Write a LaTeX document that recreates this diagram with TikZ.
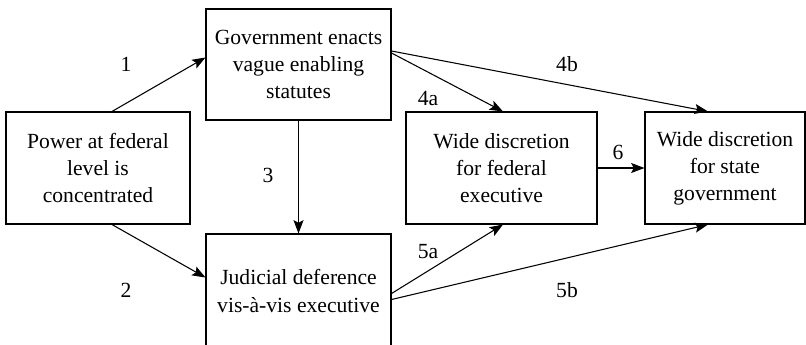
\documentclass[tikz,border=0pt]{standalone}
\usepackage{fontspec}
\setmainfont{Liberation Serif}
\usetikzlibrary{arrows.meta,calc}
\tikzset{
  box/.style={draw, line width=0.8pt, rectangle, align=center, inner sep=0pt,
    font=\fontsize{16.2}{20.3}\selectfont},
  conn/.style={line width=0.8pt, -{Stealth[length=10pt,width=7.5pt,inset=2pt]}},
  lbl/.style={font=\fontsize{16.2}{20}\selectfont, inner sep=0pt}
}
\begin{document}
\begin{tikzpicture}[x=0.75pt, y=-0.75pt]
\useasboundingbox (0,0) rectangle (806,344);
\node[box, minimum width=138pt, minimum height=84pt] (A) at (98,168) {Power at federal\\level is\\concentrated};
\node[box, minimum width=138.75pt, minimum height=83.25pt] (B) at (298.5,64.5) {Government enacts\\vague enabling\\statutes};
\node[box, minimum width=138.75pt, minimum height=85.5pt] (C) at (298.5,291) {Judicial deference\\vis-\`a-vis executive};
\node[box, minimum width=143.25pt, minimum height=84pt] (D) at (501.5,168) {Wide discretion\\for federal\\executive};
\node[box, minimum width=120pt, minimum height=84pt] (E) at (725,168) {Wide discretion\\for state\\government};

\draw[conn] ($(A.north)+(14,0)$) -- ($(B.west)+(0,-7)$);
\draw[conn] ($(A.south)+(14,0)$) -- ($(C.west)+(0,-13.5)$);
\draw[conn] (B.south) -- (C.north);
\draw[conn] ($(B.east)+(0,-11.5)$) -- ($(D.north)+(1.5,0)$);
\draw[conn] ($(B.east)+(0,-13.5)$) -- ($(E.north)+(-17,0)$);
\draw[conn] ($(C.east)+(0,2.5)$) -- ($(D.south)+(1.5,0)$);
\draw[conn] ($(C.east)+(0,8.5)$) -- ($(E.south)+(-17,0)$);
\draw[conn] (D.east) -- (E.west);

\node[lbl] (l1) at (126,64) {1};
\node[lbl] (l2) at (126,290) {2};
\node[lbl] (l3) at (268,175) {3};
\node[lbl] (l4a) at (428,98) {4a};
\node[lbl] (l4b) at (567,64) {4b};
\node[lbl] (l5a) at (428,252) {5a};
\node[lbl] (l5b) at (567,290) {5b};
\node[lbl] (l6) at (618,152) {6};
\end{tikzpicture}
\end{document}
